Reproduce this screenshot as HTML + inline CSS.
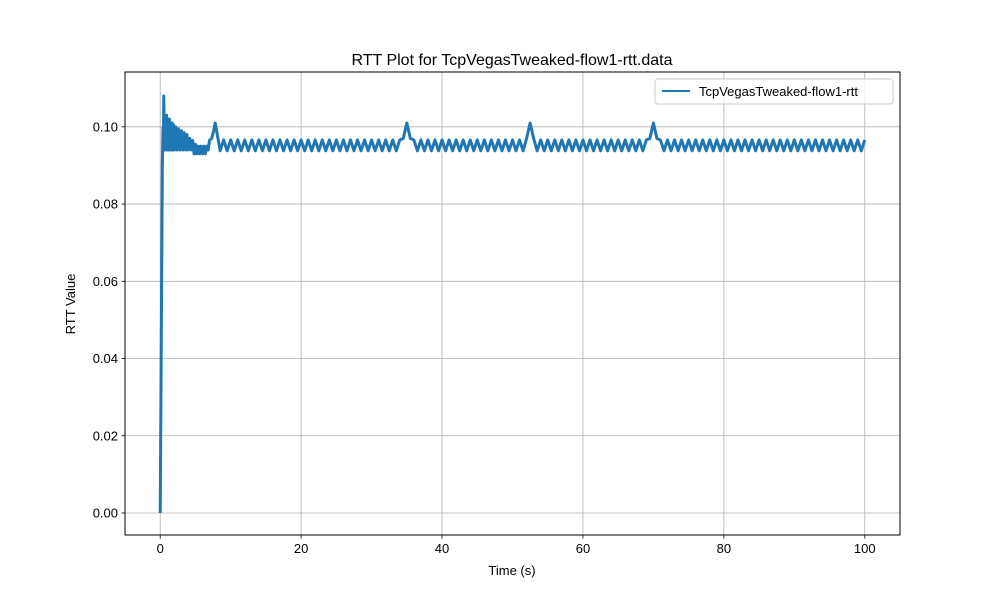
<!DOCTYPE html>
<html><head><meta charset="utf-8"><style>
body{margin:0;background:#fff;font-family:"Liberation Sans","DejaVu Sans",sans-serif}
svg text{font-family:"Liberation Sans","DejaVu Sans",sans-serif;fill:#000}
</style></head><body>
<svg id="chart" width="1000" height="600" xmlns="http://www.w3.org/2000/svg">
<rect width="1000" height="600" fill="#fff"/>
<g id="grid"></g>
<g id="ticks"></g>
<g id="series"></g>
<rect x="125" y="72" width="775" height="463" fill="none" stroke="#000" stroke-width="1"/>
<text x="512" y="65" font-size="16" text-anchor="middle">RTT Plot for TcpVegasTweaked-flow1-rtt.data</text>
<text x="512" y="575" font-size="13" text-anchor="middle">Time (s)</text>
<text x="75" y="304" font-size="13" text-anchor="middle" transform="rotate(-90 75 304)">RTT Value</text>
<g>
<rect x="655" y="79" width="238" height="25" rx="3" fill="#fff" fill-opacity="0.8" stroke="#ccc"/>
<line x1="662" y1="91" x2="690" y2="91" stroke="#1f77b4" stroke-width="2"/>
<text x="699" y="96" font-size="13">TcpVegasTweaked-flow1-rtt</text>
</g>
</svg>
<script>
const xTicks=[0,20,40,60,80,100];
const yTicks=[0.00,0.02,0.04,0.06,0.08,0.10];
const yTickLabels=["0.00","0.02","0.04","0.06","0.08","0.10"];
const startTimes=[0,0.2,0.3,0.4,0.45,0.5,0.6,0.7,0.8,0.9,1.0,1.1,1.2,1.3,1.4,1.5,1.6,1.7,1.8,1.9,2.0,2.2,2.4,2.6,2.8,3.0,3.2,3.4,3.6,3.8,4.0,4.2,4.4,4.6,4.8,5.0,5.2,5.4,5.6,5.8,6.0,6.2,6.4,6.6,6.8,7.0,7.3,7.6,7.8,8.0,8.3];
const startRtt=[0,0.06,0.09,0.1,0.094,0.108,0.094,0.103,0.094,0.103,0.094,0.102,0.094,0.102,0.094,0.101,0.094,0.101,0.094,0.1005,0.094,0.1,0.094,0.0995,0.094,0.099,0.094,0.0985,0.094,0.098,0.094,0.097,0.094,0.0965,0.093,0.0955,0.093,0.095,0.093,0.095,0.093,0.095,0.093,0.095,0.094,0.0965,0.097,0.099,0.101,0.099,0.096];
const steadyTimes=[8.5,9,9.5,10,10.5,11,11.5,12,12.5,13,13.5,14,14.5,15,15.5,16,16.5,17,17.5,18,18.5,19,19.5,20,20.5,21,21.5,22,22.5,23,23.5,24,24.5,25,25.5,26,26.5,27,27.5,28,28.5,29,29.5,30,30.5,31,31.5,32,32.5,33,33.5,34,34.5,35,35.5,36,36.5,37,37.5,38,38.5,39,39.5,40,40.5,41,41.5,42,42.5,43,43.5,44,44.5,45,45.5,46,46.5,47,47.5,48,48.5,49,49.5,50,50.5,51,51.5,52,52.5,53,53.5,54,54.5,55,55.5,56,56.5,57,57.5,58,58.5,59,59.5,60,60.5,61,61.5,62,62.5,63,63.5,64,64.5,65,65.5,66,66.5,67,67.5,68,68.5,69,69.5,70,70.5,71,71.5,72,72.5,73,73.5,74,74.5,75,75.5,76,76.5,77,77.5,78,78.5,79,79.5,80,80.5,81,81.5,82,82.5,83,83.5,84,84.5,85,85.5,86,86.5,87,87.5,88,88.5,89,89.5,90,90.5,91,91.5,92,92.5,93,93.5,94,94.5,95,95.5,96,96.5,97,97.5,98,98.5,99,99.5,100];
const steadyRtt=[
0.0938,0.0966,0.0938,0.0966,0.0938,0.0966,0.0938,0.0966,0.0938,0.0966,0.0938,0.0966,0.0938,0.0966,0.0938,0.0966,0.0938,0.0966,0.0938,0.0966,
0.0938,0.0966,0.0938,0.0966,0.0938,0.0966,0.0938,0.0966,0.0938,0.0966,0.0938,0.0966,0.0938,0.0966,0.0938,0.0966,0.0938,0.0966,0.0938,0.0966,
0.0938,0.0966,0.0938,0.0966,0.0938,0.0966,0.0938,0.0966,0.0938,0.0966,0.0938,0.0966,0.097,0.101,0.097,0.0966,0.0938,0.0966,0.0938,0.0966,
0.0938,0.0966,0.0938,0.0966,0.0938,0.0966,0.0938,0.0966,0.0938,0.0966,0.0938,0.0966,0.0938,0.0966,0.0938,0.0966,0.0938,0.0966,0.0938,0.0966,
0.0938,0.0966,0.0938,0.0966,0.0938,0.0966,0.0938,0.097,0.101,0.097,0.0938,0.0966,0.0938,0.0966,0.0938,0.0966,0.0938,0.0966,0.0938,0.0966,
0.0938,0.0966,0.0938,0.0966,0.0938,0.0966,0.0938,0.0966,0.0938,0.0966,0.0938,0.0966,0.0938,0.0966,0.0938,0.0966,0.0938,0.0966,0.0938,0.0966,
0.0938,0.0966,0.097,0.101,0.097,0.0966,0.0938,0.0966,0.0938,0.0966,0.0938,0.0966,0.0938,0.0966,0.0938,0.0966,0.0938,0.0966,0.0938,0.0966,
0.0938,0.0966,0.0938,0.0966,0.0938,0.0966,0.0938,0.0966,0.0938,0.0966,0.0938,0.0966,0.0938,0.0966,0.0938,0.0966,0.0938,0.0966,0.0938,0.0966,
0.0938,0.0966,0.0938,0.0966,0.0938,0.0966,0.0938,0.0966,0.0938,0.0966,0.0938,0.0966,0.0938,0.0966,0.0938,0.0966,0.0938,0.0966,0.0938,0.0966,
0.0938,0.0966,0.0938,0.0966];
const X0=125,X1=900,Y0=72,Y1=535,XMIN=-5,XMAX=105,YMIN=-0.0057,YMAX=0.1142;
function xs(v){return X0+(v-XMIN)/(XMAX-XMIN)*(X1-X0);}
function ys(v){return Y1-(v-YMIN)/(YMAX-YMIN)*(Y1-Y0);}
const NS="http://www.w3.org/2000/svg";
const grid=document.getElementById('grid'),ticks=document.getElementById('ticks'),series=document.getElementById('series');
function mk(tag,attrs,parent){const e=document.createElementNS(NS,tag);for(const k in attrs)e.setAttribute(k,attrs[k]);parent.appendChild(e);return e;}
xTicks.forEach(v=>{
  const x=xs(v);
  const g=mk('line',{x1:x,x2:x,y1:Y0,y2:Y1,stroke:'#b0b0b0','stroke-width':0.8},grid);
  
  
  const t=mk('line',{x1:x,x2:x,y1:Y1,y2:Y1+3.5,stroke:'#000','stroke-width':0.8},ticks);
  
  
  const l=mk('text',{x:x,y:Y1+18,'font-size':13,'text-anchor':'middle'},ticks);
  l.textContent=String(v);
  
  
});
yTicks.forEach((v,i)=>{
  const y=ys(v);
  const g=mk('line',{x1:X0,x2:X1,y1:y,y2:y,stroke:'#b0b0b0','stroke-width':0.8},grid);
  
  
  const t=mk('line',{x1:X0-3.5,x2:X0,y1:y,y2:y,stroke:'#000','stroke-width':0.8},ticks);
  
  
  const l=mk('text',{x:X0-7,y:y+4.5,'font-size':13,'text-anchor':'end'},ticks);
  l.textContent=yTickLabels[i];
  
  
});
const allT=startTimes.concat(steadyTimes),allV=startRtt.concat(steadyRtt);
const d=allT.map((t,i)=>(i?'L':'M')+xs(t).toFixed(2)+' '+ys(allV[i]).toFixed(2)).join(' ');
const p=mk('path',{d:d,fill:'none',stroke:'#1f77b4','stroke-width':3,'stroke-linejoin':'round'},series);


</script>
</body></html>
